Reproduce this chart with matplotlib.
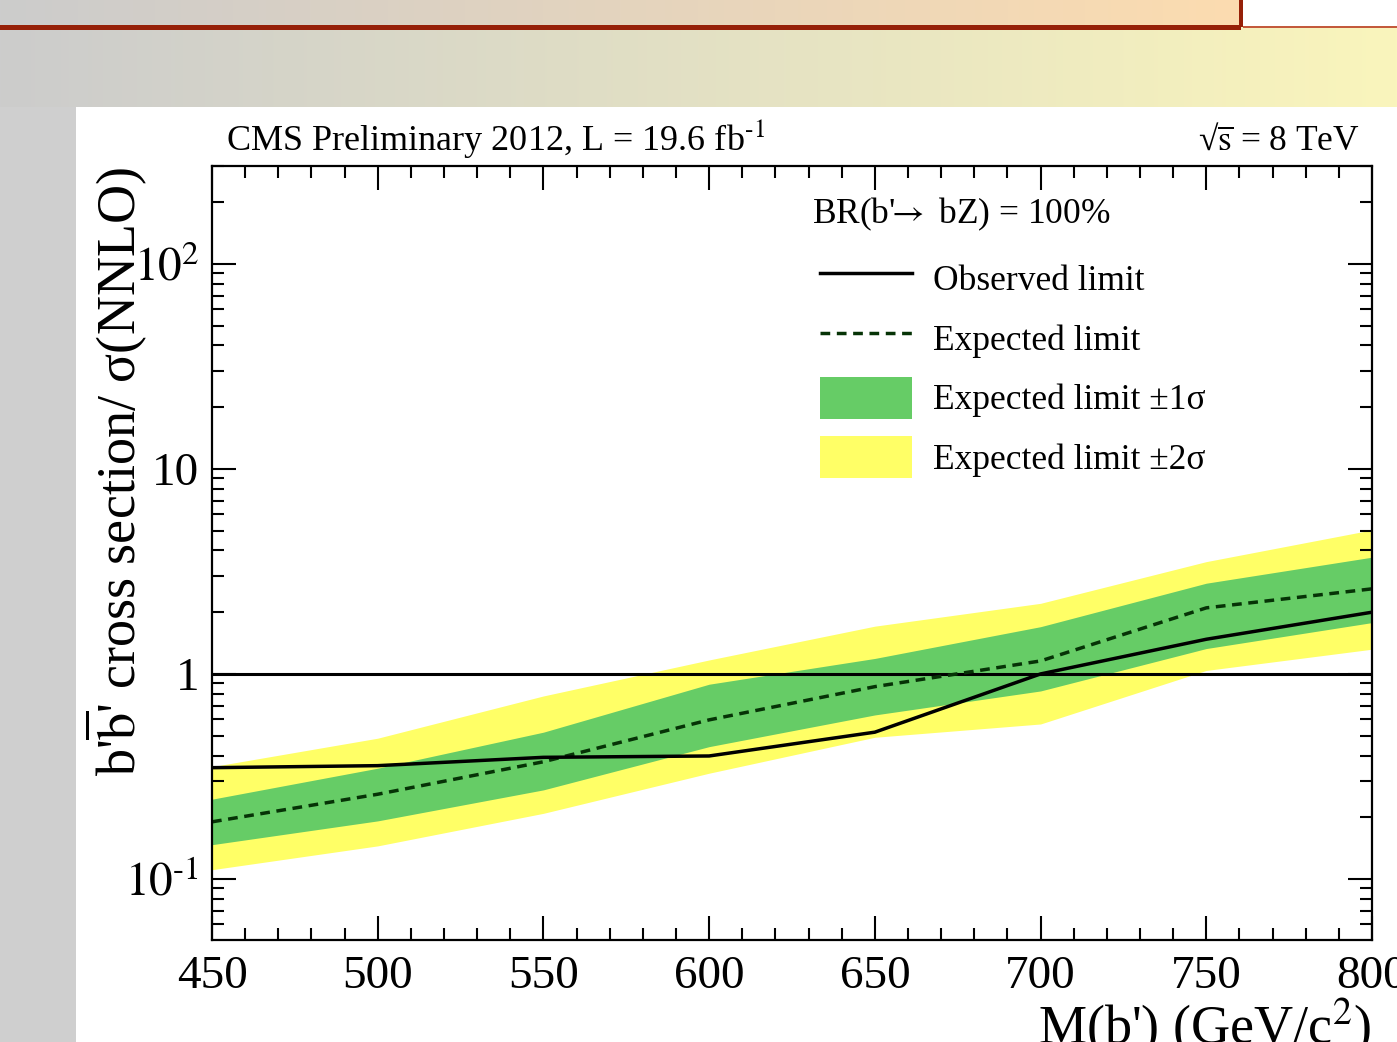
import numpy as np
import matplotlib
matplotlib.use("Agg")
import matplotlib.pyplot as plt
from matplotlib.lines import Line2D
from matplotlib.patches import Patch
from matplotlib.ticker import LogLocator, FixedLocator, FixedFormatter, MultipleLocator

plt.rcParams['font.family'] = ['Liberation Serif', 'DejaVu Serif']
plt.rcParams['mathtext.fontset'] = 'stix'

# ---------------- data ----------------
mass = [450, 500, 550, 600, 650, 700, 750, 800]
observed = [0.349, 0.357, 0.392, 0.398, 0.52, 1.0, 1.476, 2.0]
expected = [0.19, 0.259, 0.373, 0.597, 0.867, 1.157, 2.1, 2.6]
one_sigma_lo = [0.147, 0.192, 0.272, 0.442, 0.631, 0.826, 1.33, 1.78]
one_sigma_hi = [0.245, 0.347, 0.52, 0.891, 1.19, 1.70, 2.77, 3.71]
two_sigma_lo = [0.111, 0.145, 0.209, 0.328, 0.491, 0.57, 1.04, 1.32]
two_sigma_hi = [0.353, 0.486, 0.781, 1.17, 1.71, 2.21, 3.53, 5.04]
ytick_vals = [0.1, 1, 10, 100]
ytick_labels = [r"$10^{\text{-1}}$", "1", "10", r"$10^{2}$"]
xtick_vals = [450, 500, 550, 600, 650, 700, 750, 800]
legend_labels = ["Observed limit", "Expected limit",
                 "Expected limit \u00b11\u03c3", "Expected limit \u00b12\u03c3"]

W, H = 1397, 1042
fig = plt.figure(figsize=(W / 100, H / 100), dpi=100)

# ---------------- slide background ----------------
bg = np.ones((H, W, 3))
xs = np.linspace(0, 1, W)
c0 = np.array([204, 204, 204]) / 255
c1 = np.array([250, 245, 188]) / 255
band = c0[None, :] * (1 - xs[:, None]) + c1[None, :] * xs[:, None]
bg[27:107, :, :] = band[None, :, :]
bx = np.linspace(0, 1, 1241)
b1 = np.array([252, 220, 176]) / 255
boxg = c0[None, :] * (1 - bx[:, None]) + b1[None, :] * bx[:, None]
bg[0:25, 0:1241, :] = boxg[None, :, :]
bg[25:30, 0:1241, :] = np.array([150, 32, 8]) / 255
bg[0:27, 1239:1243, :] = np.array([150, 32, 8]) / 255
bg[26:28, 1243:, :] = np.array([195, 90, 60]) / 255
bg[107:, 0:76, :] = np.array([207, 207, 207]) / 255
bgax = fig.add_axes([0, 0, 1, 1], zorder=-10)
bgax.imshow(bg, aspect='auto', extent=(0, W, H, 0), interpolation='nearest')
bgax.set_axis_off()

# ---------------- main axes ----------------
L, R, T, B = 212, 1372, 166, 940
ax = fig.add_axes([L / W, 1 - B / H, (R - L) / W, (B - T) / H])
ax.set_facecolor('white')
ax.set_yscale('log')
ax.set_xlim(450, 800)
ax.set_ylim(0.0504, 300)

ax.fill_between(mass, two_sigma_lo, two_sigma_hi, color='#ffff66', lw=0, zorder=1)
ax.fill_between(mass, one_sigma_lo, one_sigma_hi, color='#66cc66', lw=0, zorder=2)
ax.axhline(1, color='black', lw=2.2, zorder=3)
ax.plot(mass, expected, color='#063306', lw=2.5, dashes=(2.8, 1.9), zorder=4)
ax.plot(mass, observed, color='black', lw=2.5, zorder=5)

for s in ax.spines.values():
    s.set_linewidth(1.6)
    s.set_zorder(6)

ax.xaxis.set_major_locator(FixedLocator(xtick_vals))
ax.xaxis.set_minor_locator(MultipleLocator(10))
ax.yaxis.set_major_locator(FixedLocator(ytick_vals))
ax.yaxis.set_major_formatter(FixedFormatter(ytick_labels))
ax.yaxis.set_minor_locator(LogLocator(base=10, subs=np.arange(2, 10)))
ax.yaxis.set_minor_formatter(plt.NullFormatter())
ax.tick_params(which='both', direction='in', top=True, right=True, width=1.5)
ax.tick_params(which='major', length=17.5)
ax.tick_params(which='minor', length=8.7)
ax.tick_params(axis='x', which='major', labelsize=34, pad=11)
ax.tick_params(axis='y', which='major', labelsize=34, pad=9)

# ---------------- texts ----------------
fig.text(226 / W, 1 - 150 / H, r"CMS Preliminary 2012, L = 19.6 fb$^{\text{-1}}$",
         fontsize=26, ha='left', va='baseline')
fig.text(1360 / W, 1 - 150 / H, "\u221a$\\overline{\\mathrm{s}}$ = 8 TeV",
         fontsize=25.5, ha='right', va='baseline')
fig.text(116 / W, 1 - 472 / H, "b'$\\overline{\\mathrm{b}}$' cross section/ \u03c3(NNLO)",
         fontsize=39, rotation=90, ha='center', va='center')
fig.text(1372 / W, -0.002, r"M(b') (GeV/c$^{2}$)", fontsize=39,
         ha='right', va='baseline')

ax.text((812 - L) / (R - L), (B - 214) / (B - T), r"BR(b'$\!\!\rightarrow$ bZ) = 100%",
        transform=ax.transAxes, fontsize=25.5, ha='left', va='center')

handles = [Line2D([], [], color='black', lw=2.5),
           Line2D([], [], color='#063306', lw=2.5, dashes=(2.8, 1.9)),
           Patch(facecolor='#66cc66', edgecolor='none'),
           Patch(facecolor='#ffff66', edgecolor='none')]
ax.legend(handles, legend_labels, loc='upper left',
          bbox_to_anchor=((820 - L) / (R - L), (B - 257) / (B - T)),
          frameon=False, fontsize=25.5, handlelength=2.6, handleheight=1.45,
          handletextpad=0.58, labelspacing=0.5, borderpad=0, borderaxespad=0)

fig.savefig("out.png", dpi=100)
